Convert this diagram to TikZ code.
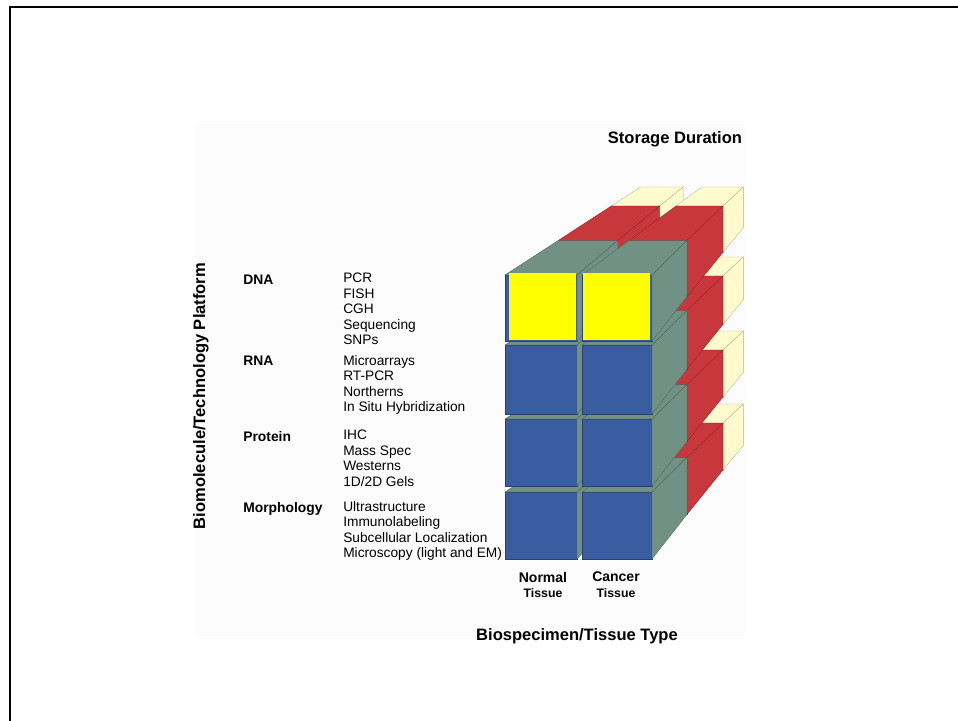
\documentclass[tikz,border=0pt]{standalone}
\usepackage{fontspec}
\setmainfont{Liberation Sans}
\usetikzlibrary{positioning}
\definecolor{blockblue}{RGB}{58,92,160}
\definecolor{blockgray}{RGB}{112,145,132}
\definecolor{blockred}{RGB}{200,55,60}
\definecolor{blockcream}{RGB}{255,251,206}
\definecolor{hiyellow}{RGB}{255,255,0}
% depth projection (image pixels, y downwards, z in layers)
\pgfmathdeclarefunction{projx}{2}{\pgfmathparse{#1+#2*(53-0.08*(#1-507))}}
\pgfmathdeclarefunction{projy}{2}{\pgfmathparse{#1-34.5*#2}}
\newcommand{\wtaper}{0.1}
\newcommand{\htaper}{0.15}
% one block: x0 x1 ytop ybot z0 z1 front-colour side-colour
\newcommand{\cubeblock}[8]{%
  \pgfmathsetmacro{\bA}{#1+(#2-#1)*(1-\wtaper*#5)}%
  \pgfmathsetmacro{\bB}{#1+(#2-#1)*(1-\wtaper*#6)}%
  \pgfmathsetmacro{\uA}{#3+(#4-#3)*(1-\htaper*#5)}%
  \pgfmathsetmacro{\uB}{#3+(#4-#3)*(1-\htaper*#6)}%
  \filldraw[face=#7] ({projx(#1,#5)},{projy(#3,#5)}) -- ({projx(\bA,#5)},{projy(#3,#5)})
    -- ({projx(\bA,#5)},{projy(\uA,#5)}) -- ({projx(#1,#5)},{projy(\uA,#5)}) -- cycle;
  \filldraw[face=#8] ({projx(#1,#5)},{projy(#3,#5)}) -- ({projx(\bA,#5)},{projy(#3,#5)})
    -- ({projx(\bB,#6)},{projy(#3,#6)}) -- ({projx(#1,#6)},{projy(#3,#6)}) -- cycle;
  \filldraw[face=#8] ({projx(\bA,#5)},{projy(#3,#5)}) -- ({projx(\bA,#5)},{projy(\uA,#5)})
    -- ({projx(\bB,#6)},{projy(\uB,#6)}) -- ({projx(\bB,#6)},{projy(#3,#6)}) -- cycle;}

\begin{document}
\begin{tikzpicture}[x=0.75pt,y=-0.75pt,
  face/.style={fill=#1,draw=#1!70!black,line width=0.25pt},
  head/.style={font=\fontsize{12.4}{14}\selectfont\bfseries,inner sep=0pt},
  cat/.style={font=\fontsize{10.4}{12}\selectfont\bfseries,inner sep=0pt,anchor=north west},
  meth/.style={font=\fontsize{10.3}{11.6}\selectfont,inner sep=0pt,anchor=north west,align=left},
  tis/.style={font=\fontsize{10.5}{12}\selectfont\bfseries,inner sep=0pt},
  tissub/.style={font=\fontsize{9.2}{11}\selectfont\bfseries,inner sep=0pt}]
  \useasboundingbox (0,0) rectangle (958,721);
  \draw[line width=1.5pt] (9.5,721) -- (9.5,7) -- (958,7);
  \fill[black!1] (194,124) rectangle (745,636);

  \begin{scope}
    \clip (0,0) rectangle (745,721);
    % storage layers, back to front
    \foreach \za/\zb/\col in {2/2.55/blockcream,1/2/blockred}{
      \foreach \ya/\yb in {492/559,419/486,345/414,275/341}{
        \foreach \xa/\xb in {505/577,582/652}{
          \cubeblock{\xa}{\xb}{\ya}{\yb}{\za}{\zb}{\col}{\col}}}}
    \foreach \ya/\yb in {492/559,419/486,345/414,275/341}{
      \foreach \xa/\xb in {505/577,582/652}{
        \cubeblock{\xa}{\xb}{\ya}{\yb}{0}{1}{blockblue}{blockgray}}}
    \fill[hiyellow] (509,273) rectangle (576,340);
    \fill[hiyellow] (583,273) rectangle (650,340);
  \end{scope}

  \node[head] (dur) at (675,139) {Storage Duration};
  \node[head,rotate=90] (plat) at (201,396) {Biomolecule/Technology Platform};
  \node[head] (type) at (577,636) {Biospecimen/Tissue Type};

  \node[cat] (dna) at (243,275) {DNA};
  \node[cat] (rna) at (243,356) {RNA};
  \node[cat] (prot) at (243,431) {Protein};
  \node[cat] (morph) at (243,502) {Morphology};

  \node[meth] (dnam) at (343,273) {PCR\\FISH\\CGH\\Sequencing\\SNPs};
  \node[meth] (rnam) at (343,355) {Microarrays\\RT-PCR\\Northerns\\In Situ Hybridization};
  \node[meth] (protm) at (343,430) {IHC\\Mass Spec\\Westerns\\1D/2D Gels};
  \node[meth] (morphm) at (343,501) {Ultrastructure\\Immunolabeling\\Subcellular Localization\\Microscopy (light and EM)};

  \node[tis] (norm) at (543,577) {Normal};
  \node[tissub] (normt) at (543,593) {Tissue};
  \node[tis] (canc) at (616,577) {Cancer};
  \node[tissub] (canct) at (616,593) {Tissue};
\end{tikzpicture}
\end{document}
